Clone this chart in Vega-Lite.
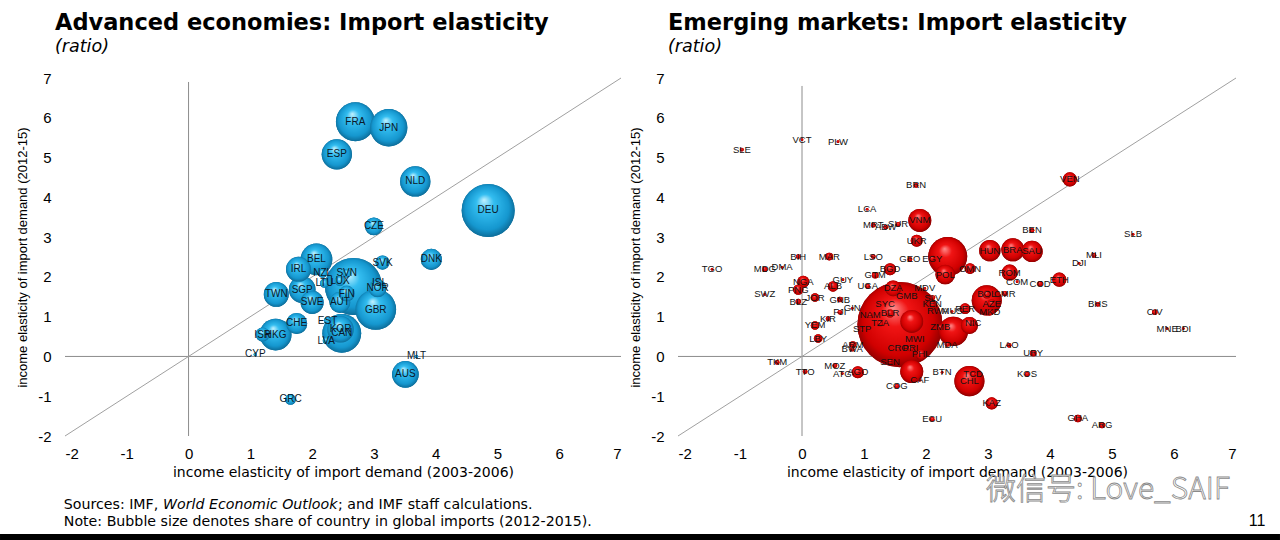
{
  "$schema": "https://vega.github.io/schema/vega-lite/v6.json",
  "description": "Import elasticity: advanced economies vs emerging markets",
  "background": "white",
  "padding": {"left": 0, "top": 12, "right": 0, "bottom": 0},
  "bounds": "flush",
  "spacing": 57,
  "datasets": {
    "one": [{}],
    "adv": [
      {"code": "USA", "label": "", "x": 2.67, "y": 1.76, "share": 11.0},
      {"code": "DEU", "label": "DEU", "x": 4.85, "y": 3.67, "share": 9.5},
      {"code": "FRA", "label": "FRA", "x": 2.7, "y": 5.9, "share": 5.1},
      {"code": "JPN", "label": "JPN", "x": 3.24, "y": 5.75, "share": 4.7},
      {"code": "GBR", "label": "GBR", "x": 3.03, "y": 1.18, "share": 5.6},
      {"code": "CAN", "label": "CAN", "x": 2.48, "y": 0.58, "share": 5.1},
      {"code": "ESP", "label": "ESP", "x": 2.4, "y": 5.08, "share": 3.1},
      {"code": "NLD", "label": "NLD", "x": 3.67, "y": 4.4, "share": 3.1},
      {"code": "BEL", "label": "BEL", "x": 2.07, "y": 2.44, "share": 3.4},
      {"code": "HKG", "label": "HKG", "x": 1.41, "y": 0.55, "share": 3.4},
      {"code": "SGP", "label": "SGP", "x": 1.84, "y": 1.68, "share": 2.4},
      {"code": "TWN", "label": "TWN", "x": 1.42, "y": 1.56, "share": 2.1},
      {"code": "IRL", "label": "IRL", "x": 1.78, "y": 2.19, "share": 2.1},
      {"code": "SWE", "label": "SWE", "x": 2.0, "y": 1.36, "share": 1.8},
      {"code": "AUT", "label": "AUT", "x": 2.45, "y": 1.36, "share": 1.5},
      {"code": "CHE", "label": "CHE", "x": 1.75, "y": 0.83, "share": 1.5},
      {"code": "DNK", "label": "DNK", "x": 3.93, "y": 2.44, "share": 1.5},
      {"code": "AUS", "label": "AUS", "x": 3.51, "y": -0.45, "share": 2.4},
      {"code": "KOR", "label": "KOR", "x": 2.46, "y": 0.68, "share": 2.4},
      {"code": "CZE", "label": "CZE", "x": 3.0, "y": 3.27, "share": 1.06},
      {"code": "SVK", "label": "SVK", "x": 3.14, "y": 2.36, "share": 0.68},
      {"code": "NOR", "label": "NOR", "x": 3.06, "y": 1.71, "share": 1.06},
      {"code": "FIN", "label": "FIN", "x": 2.56, "y": 1.58, "share": 0.86},
      {"code": "ISL", "label": "ISL", "x": 3.09, "y": 1.84, "share": 0.1},
      {"code": "NZL", "label": "NZL", "x": 2.17, "y": 2.09, "share": 0.27},
      {"code": "SVN", "label": "SVN", "x": 2.56, "y": 2.09, "share": 0.27},
      {"code": "LTU", "label": "LTU", "x": 2.2, "y": 1.84, "share": 0.27},
      {"code": "LUX", "label": "LUX", "x": 2.45, "y": 1.9, "share": 0.38},
      {"code": "EST", "label": "EST", "x": 2.25, "y": 0.9, "share": 0.17},
      {"code": "LVA", "label": "LVA", "x": 2.23, "y": 0.4, "share": 0.17},
      {"code": "ISR", "label": "ISR", "x": 1.2, "y": 0.55, "share": 0.68},
      {"code": "CYP", "label": "CYP", "x": 1.08, "y": 0.05, "share": 0.04},
      {"code": "MLT", "label": "MLT", "x": 3.69, "y": 0.0, "share": 0.04},
      {"code": "GRC", "label": "GRC", "x": 1.65, "y": -1.08, "share": 0.38}
    ],
    "em": [
      {"code": "CHN", "label": "", "x": 1.58, "y": 0.8, "share": 10.0},
      {"code": "MEX", "label": "", "x": 2.35, "y": 2.51, "share": 2.1},
      {"code": "IND", "label": "", "x": 1.77, "y": 0.88, "share": 0.73},
      {"code": "THA", "label": "", "x": 2.44, "y": 0.63, "share": 1.2},
      {"code": "MYS", "label": "", "x": 2.7, "y": 0.78, "share": 0.4},
      {"code": "ARE", "label": "", "x": 2.98, "y": 1.41, "share": 1.25},
      {"code": "PAK", "label": "", "x": 1.77, "y": -0.38, "share": 0.73},
      {"code": "CHL", "label": "CHL", "x": 2.7, "y": -0.62, "share": 1.25},
      {"code": "TCD", "label": "TCD", "x": 2.76, "y": -0.45, "share": 0.03},
      {"code": "SLE", "label": "SLE", "x": -0.97, "y": 5.2, "share": 0.02},
      {"code": "VCT", "label": "VCT", "x": 0.0, "y": 5.45, "share": 0.01},
      {"code": "PLW", "label": "PLW", "x": 0.58, "y": 5.4, "share": 0.01},
      {"code": "BRN", "label": "BRN", "x": 1.84, "y": 4.3, "share": 0.03},
      {"code": "LCA", "label": "LCA", "x": 1.05, "y": 3.7, "share": 0.01},
      {"code": "MRT", "label": "MRT", "x": 1.15, "y": 3.3, "share": 0.03},
      {"code": "ABW", "label": "ABW", "x": 1.35, "y": 3.25, "share": 0.03},
      {"code": "SUR", "label": "SUR", "x": 1.55, "y": 3.32, "share": 0.03},
      {"code": "VNM", "label": "VNM", "x": 1.9, "y": 3.42, "share": 0.73},
      {"code": "UKR", "label": "UKR", "x": 1.85, "y": 2.91, "share": 0.2},
      {"code": "BIH", "label": "BIH", "x": -0.06, "y": 2.51, "share": 0.03},
      {"code": "MAR", "label": "MAR", "x": 0.44, "y": 2.51, "share": 0.08},
      {"code": "LSO", "label": "LSO", "x": 1.15, "y": 2.51, "share": 0.03},
      {"code": "GEO", "label": "GEO", "x": 1.74, "y": 2.44, "share": 0.03},
      {"code": "EGY", "label": "EGY", "x": 2.1, "y": 2.46, "share": 0.05},
      {"code": "POL", "label": "POL", "x": 2.31, "y": 2.06, "share": 0.53},
      {"code": "OMN", "label": "OMN", "x": 2.71, "y": 2.21, "share": 0.16},
      {"code": "HUN", "label": "HUN", "x": 3.03, "y": 2.66, "share": 0.63},
      {"code": "BRA", "label": "BRA", "x": 3.4, "y": 2.68, "share": 0.73},
      {"code": "SAU", "label": "SAU", "x": 3.71, "y": 2.64, "share": 0.63},
      {"code": "ROM", "label": "ROM", "x": 3.35, "y": 2.11, "share": 0.35},
      {"code": "COM", "label": "COM", "x": 3.47, "y": 1.88, "share": 0.01},
      {"code": "COD", "label": "COD", "x": 3.84, "y": 1.83, "share": 0.04},
      {"code": "ETH", "label": "ETH", "x": 4.15, "y": 1.93, "share": 0.28},
      {"code": "BEN", "label": "BEN", "x": 3.71, "y": 3.17, "share": 0.03},
      {"code": "VEN", "label": "VEN", "x": 4.32, "y": 4.45, "share": 0.28},
      {"code": "SLB", "label": "SLB", "x": 5.34, "y": 3.07, "share": 0.01},
      {"code": "MLI", "label": "MLI", "x": 4.71, "y": 2.54, "share": 0.03},
      {"code": "DJI", "label": "DJI", "x": 4.47, "y": 2.34, "share": 0.01},
      {"code": "BHS", "label": "BHS", "x": 4.77, "y": 1.31, "share": 0.03},
      {"code": "CIV", "label": "CIV", "x": 5.69, "y": 1.11, "share": 0.04},
      {"code": "MNE", "label": "MNE", "x": 5.89, "y": 0.7, "share": 0.01},
      {"code": "BDI", "label": "BDI", "x": 6.15, "y": 0.7, "share": 0.01},
      {"code": "LAO", "label": "LAO", "x": 3.34, "y": 0.28, "share": 0.03},
      {"code": "URY", "label": "URY", "x": 3.73, "y": 0.08, "share": 0.06},
      {"code": "KOS", "label": "KOS", "x": 3.63, "y": -0.45, "share": 0.03},
      {"code": "KAZ", "label": "KAZ", "x": 3.06, "y": -1.18, "share": 0.2},
      {"code": "GHA", "label": "GHA", "x": 4.45, "y": -1.56, "share": 0.08},
      {"code": "ARG", "label": "ARG", "x": 4.84, "y": -1.73, "share": 0.05},
      {"code": "BOL", "label": "BOL", "x": 2.98, "y": 1.56, "share": 0.1},
      {"code": "CMR", "label": "CMR", "x": 3.27, "y": 1.58, "share": 0.04},
      {"code": "AZE", "label": "AZE", "x": 3.06, "y": 1.33, "share": 0.1},
      {"code": "MKD", "label": "MKD", "x": 3.03, "y": 1.11, "share": 0.06},
      {"code": "TGO", "label": "TGO", "x": -1.45, "y": 2.19, "share": 0.01},
      {"code": "MDG", "label": "MDG", "x": -0.6, "y": 2.19, "share": 0.04},
      {"code": "DMA", "label": "DMA", "x": -0.32, "y": 2.24, "share": 0.01},
      {"code": "SWZ", "label": "SWZ", "x": -0.6, "y": 1.56, "share": 0.01},
      {"code": "NGA", "label": "NGA", "x": 0.02, "y": 1.88, "share": 0.2},
      {"code": "PNG", "label": "PNG", "x": -0.06, "y": 1.68, "share": 0.15},
      {"code": "BLZ", "label": "BLZ", "x": -0.06, "y": 1.38, "share": 0.04},
      {"code": "JOR", "label": "JOR", "x": 0.21, "y": 1.48, "share": 0.1},
      {"code": "GUY", "label": "GUY", "x": 0.66, "y": 1.93, "share": 0.01},
      {"code": "ALB", "label": "ALB", "x": 0.5, "y": 1.76, "share": 0.15},
      {"code": "GNB", "label": "GNB", "x": 0.61, "y": 1.43, "share": 0.04},
      {"code": "UGA", "label": "UGA", "x": 1.06, "y": 1.76, "share": 0.03},
      {"code": "GTM", "label": "GTM", "x": 1.18, "y": 2.04, "share": 0.06},
      {"code": "BGD", "label": "BGD", "x": 1.42, "y": 2.19, "share": 0.2},
      {"code": "DZA", "label": "DZA", "x": 1.47, "y": 1.71, "share": 0.35},
      {"code": "GMB", "label": "GMB", "x": 1.69, "y": 1.51, "share": 0.01},
      {"code": "MDV", "label": "MDV", "x": 1.98, "y": 1.71, "share": 0.01},
      {"code": "SLV", "label": "SLV", "x": 2.11, "y": 1.48, "share": 0.03},
      {"code": "SYC", "label": "SYC", "x": 1.34, "y": 1.31, "share": 0.01},
      {"code": "NAM", "label": "NAM", "x": 1.1, "y": 1.03, "share": 0.04},
      {"code": "BLR", "label": "BLR", "x": 1.42, "y": 1.08, "share": 0.1},
      {"code": "TZA", "label": "TZA", "x": 1.26, "y": 0.83, "share": 0.05},
      {"code": "MWI", "label": "MWI", "x": 1.82, "y": 0.43, "share": 0.01},
      {"code": "CRO", "label": "CRO", "x": 1.55, "y": 0.2, "share": 0.05},
      {"code": "PRI", "label": "PRI", "x": 1.75, "y": 0.2, "share": 0.05},
      {"code": "PHL", "label": "PHL", "x": 1.92, "y": 0.05, "share": 0.15},
      {"code": "ZMB", "label": "ZMB", "x": 2.23, "y": 0.73, "share": 0.05},
      {"code": "MDA", "label": "MDA", "x": 2.34, "y": 0.3, "share": 0.03},
      {"code": "NIC", "label": "NIC", "x": 2.76, "y": 0.83, "share": 0.04},
      {"code": "PER", "label": "PER", "x": 2.63, "y": 1.2, "share": 0.16},
      {"code": "RWA", "label": "RWA", "x": 2.19, "y": 1.13, "share": 0.01},
      {"code": "KEN", "label": "KEN", "x": 2.1, "y": 1.31, "share": 0.05},
      {"code": "MUS", "label": "MUS", "x": 2.42, "y": 1.13, "share": 0.01},
      {"code": "STP", "label": "STP", "x": 0.97, "y": 0.68, "share": 0.01},
      {"code": "GIN", "label": "GIN", "x": 0.81, "y": 1.21, "share": 0.01},
      {"code": "FJI", "label": "FJI", "x": 0.61, "y": 1.11, "share": 0.03},
      {"code": "KIR", "label": "KIR", "x": 0.42, "y": 0.95, "share": 0.03},
      {"code": "YEM", "label": "YEM", "x": 0.21, "y": 0.78, "share": 0.1},
      {"code": "LBY", "label": "LBY", "x": 0.26, "y": 0.45, "share": 0.1},
      {"code": "BWA", "label": "BWA", "x": 0.81, "y": 0.18, "share": 0.03},
      {"code": "ARM", "label": "ARM", "x": 0.82, "y": 0.3, "share": 0.06},
      {"code": "SEN", "label": "SEN", "x": 1.42, "y": -0.13, "share": 0.03},
      {"code": "CAF", "label": "CAF", "x": 1.9, "y": -0.6, "share": 0.01},
      {"code": "COG", "label": "COG", "x": 1.53, "y": -0.75, "share": 0.03},
      {"code": "BTN", "label": "BTN", "x": 2.26, "y": -0.4, "share": 0.01},
      {"code": "ECU", "label": "ECU", "x": 2.1, "y": -1.58, "share": 0.03},
      {"code": "MOZ", "label": "MOZ", "x": 0.53, "y": -0.23, "share": 0.03},
      {"code": "ATG", "label": "ATG", "x": 0.65, "y": -0.43, "share": 0.01},
      {"code": "AGO", "label": "AGO", "x": 0.9, "y": -0.4, "share": 0.2},
      {"code": "TTO", "label": "TTO", "x": 0.05, "y": -0.38, "share": 0.03},
      {"code": "TKM", "label": "TKM", "x": -0.4, "y": -0.15, "share": 0.03}
    ]
  },
  "hconcat": [
    {
      "width": 556,
      "height": 358,
      "title": {"text": "Advanced economies: Import elasticity", "subtitle": "(ratio)"},
      "layer": [
        {
          "data": {"name": "adv"},
          "mark": {
            "type": "circle",
            "opacity": 1,
            "fill": {
              "gradient": "radial", "x1": 0.42, "y1": 0.3, "r1": 0, "x2": 0.5, "y2": 0.5, "r2": 0.55,
              "stops": [
                {"offset": 0, "color": "#c4f2ff"},
                {"offset": 0.3, "color": "#33bdf0"},
                {"offset": 0.75, "color": "#1597cf"},
                {"offset": 1, "color": "#0a5f88"}
              ]
            }
          },
          "encoding": {
            "x": {"field": "x", "type": "quantitative", "scale": {"domain": [-2, 7], "nice": false, "zero": false},
                  "axis": {"values": [-2, -1, 0, 1, 2, 3, 4, 5, 6, 7], "tickCount": 10, "labelOverlap": false, "title": "income elasticity of import demand (2003-2006)"}},
            "y": {"field": "y", "type": "quantitative", "scale": {"domain": [-2, 7], "nice": false, "zero": false},
                  "axis": {"values": [-2, -1, 0, 1, 2, 3, 4, 5, 6, 7], "tickCount": 10, "labelOverlap": false, "title": "income elasticity of import demand (2012-15)"}},
            "size": {"field": "share", "type": "quantitative", "scale": {"domain": [0, 13], "range": [0, 3850]}, "legend": null},
            "order": {"field": "share", "sort": "descending"}
          }
        },
        {
          "data": {"name": "one"},
          "mark": {"type": "rect", "color": "black", "clip": false},
          "encoding": {"x": {"datum": -3.052}, "x2": {"datum": 17.667}, "y": {"datum": -4.463}, "y2": {"datum": -4.765}}
        },
        {
          "data": {"name": "one"},
          "mark": {"type": "text", "font": "DejaVu Sans", "fontSize": 14.2, "color": "black", "align": "left", "baseline": "middle", "clip": false},
          "encoding": {"x": {"datum": -2.02}, "y": {"datum": -3.734}, "text": {"value": "Sources: IMF,"}}
        },
        {
          "data": {"name": "one"},
          "mark": {"type": "text", "font": "DejaVu Sans", "fontSize": 14.2, "fontStyle": "italic", "color": "black", "align": "left", "baseline": "middle", "clip": false},
          "encoding": {"x": {"datum": -0.414}, "y": {"datum": -3.734}, "text": {"value": "World Economic Outlook"}}
        },
        {
          "data": {"name": "one"},
          "mark": {"type": "text", "font": "DejaVu Sans", "fontSize": 14.2, "color": "black", "align": "left", "baseline": "middle", "clip": false},
          "encoding": {"x": {"datum": 2.42}, "y": {"datum": -3.734}, "text": {"value": "; and IMF staff calculations."}}
        },
        {
          "data": {"name": "one"},
          "mark": {"type": "text", "font": "DejaVu Sans", "fontSize": 14.2, "color": "black", "align": "left", "baseline": "middle", "clip": false},
          "encoding": {"x": {"datum": -2.02}, "y": {"datum": -4.161}, "text": {"value": "Note: Bubble size denotes share of country in global imports (2012-2015)."}}
        },
        {
          "data": {"name": "one"},
          "mark": {"type": "rule", "color": "#8c8c8c", "strokeWidth": 1},
          "encoding": {"x": {"datum": 0}, "y": {"datum": -2}, "y2": {"datum": 6.9}}
        },
        {
          "data": {"name": "one"},
          "mark": {"type": "rule", "color": "#8c8c8c", "strokeWidth": 1},
          "encoding": {"x": {"datum": -2}, "x2": {"datum": 7}, "y": {"datum": 0}}
        },
        {
          "data": {"name": "one"},
          "mark": {"type": "rule", "color": "#a0a0a0", "strokeWidth": 1},
          "encoding": {"x": {"datum": -2}, "y": {"datum": -2}, "x2": {"datum": 7}, "y2": {"datum": 7}}
        },
        {
          "data": {"name": "adv"},
          "mark": {
            "type": "circle",
            "opacity": 1,
            "fill": {
              "gradient": "radial", "x1": 0.42, "y1": 0.3, "r1": 0, "x2": 0.5, "y2": 0.5, "r2": 0.55,
              "stops": [
                {"offset": 0, "color": "#c4f2ff"},
                {"offset": 0.3, "color": "#33bdf0"},
                {"offset": 0.75, "color": "#1597cf"},
                {"offset": 1, "color": "#0a5f88"}
              ]
            }
          },
          "encoding": {
            "x": {"field": "x", "type": "quantitative"},
            "y": {"field": "y", "type": "quantitative"},
            "size": {"field": "share", "type": "quantitative", "legend": null},
            "order": {"field": "share", "sort": "descending"}
          }
        },
        {
          "data": {"name": "adv"},
          "mark": {"type": "text", "font": "Liberation Sans", "fontSize": 10, "color": "#0b1828", "align": "center", "baseline": "middle"},
          "encoding": {
            "x": {"field": "x", "type": "quantitative"},
            "y": {"field": "y", "type": "quantitative"},
            "text": {"field": "label"}
          }
        }
      ]
    },
    {
      "width": 558,
      "height": 358,
      "title": {"text": "Emerging markets: Import elasticity", "subtitle": "(ratio)"},
      "layer": [
        {
          "data": {"name": "em"},
          "mark": {
            "type": "circle",
            "opacity": 1,
            "fill": {
              "gradient": "radial", "x1": 0.42, "y1": 0.3, "r1": 0, "x2": 0.5, "y2": 0.5, "r2": 0.55,
              "stops": [
                {"offset": 0, "color": "#ff8c8c"},
                {"offset": 0.3, "color": "#f01414"},
                {"offset": 0.75, "color": "#d00000"},
                {"offset": 1, "color": "#7a0000"}
              ]
            }
          },
          "encoding": {
            "x": {"field": "x", "type": "quantitative", "scale": {"domain": [-2, 7], "nice": false, "zero": false},
                  "axis": {"values": [-2, -1, 0, 1, 2, 3, 4, 5, 6, 7], "tickCount": 10, "labelOverlap": false, "title": "income elasticity of import demand (2003-2006)"}},
            "y": {"field": "y", "type": "quantitative", "scale": {"domain": [-2, 7], "nice": false, "zero": false},
                  "axis": {"values": [-2, -1, 0, 1, 2, 3, 4, 5, 6, 7], "tickCount": 10, "labelOverlap": false, "title": "income elasticity of import demand (2012-15)"}},
            "size": {"field": "share", "type": "quantitative", "scale": {"domain": [0, 10], "range": [0, 7240]}, "legend": null},
            "order": {"field": "share", "sort": "descending"}
          }
        },
        {
          "data": {"name": "one"},
          "mark": {"type": "rule", "color": "#8c8c8c", "strokeWidth": 1},
          "encoding": {"x": {"datum": 0}, "y": {"datum": -2}, "y2": {"datum": 6.8}}
        },
        {
          "data": {"name": "one"},
          "mark": {"type": "rule", "color": "#8c8c8c", "strokeWidth": 1},
          "encoding": {"x": {"datum": -2}, "x2": {"datum": 7}, "y": {"datum": 0}}
        },
        {
          "data": {"name": "one"},
          "mark": {"type": "rule", "color": "#a0a0a0", "strokeWidth": 1},
          "encoding": {"x": {"datum": -2}, "y": {"datum": -2}, "x2": {"datum": 7}, "y2": {"datum": 7}}
        },
        {
          "data": {"name": "em"},
          "mark": {
            "type": "circle",
            "opacity": 1,
            "fill": {
              "gradient": "radial", "x1": 0.42, "y1": 0.3, "r1": 0, "x2": 0.5, "y2": 0.5, "r2": 0.55,
              "stops": [
                {"offset": 0, "color": "#ff8c8c"},
                {"offset": 0.3, "color": "#f01414"},
                {"offset": 0.75, "color": "#d00000"},
                {"offset": 1, "color": "#7a0000"}
              ]
            }
          },
          "encoding": {
            "x": {"field": "x", "type": "quantitative"},
            "y": {"field": "y", "type": "quantitative"},
            "size": {"field": "share", "type": "quantitative", "legend": null},
            "order": {"field": "share", "sort": "descending"}
          }
        },
        {
          "data": {"name": "em"},
          "mark": {"type": "text", "font": "Liberation Sans", "fontSize": 9.5, "color": "#111111", "align": "center", "baseline": "middle"},
          "encoding": {
            "x": {"field": "x", "type": "quantitative"},
            "y": {"field": "y", "type": "quantitative"},
            "text": {"field": "label"}
          }
        },
        {
          "data": {"name": "one"},
          "mark": {"type": "text", "font": "Noto Sans CJK SC", "fontSize": 30, "fontWeight": 300, "fill": "white", "stroke": "#8a8a8a", "strokeWidth": 0.8, "align": "center", "baseline": "middle", "clip": false},
          "encoding": {"x": {"datum": 4.935}, "y": {"datum": -3.357}, "text": {"value": "微信号: Love_SAIF"}}
        },
        {
          "data": {"name": "one"},
          "mark": {"type": "text", "font": "Liberation Sans", "fontSize": 16, "fontWeight": "normal", "color": "black", "align": "center", "baseline": "middle", "clip": false},
          "encoding": {"x": {"datum": 7.339}, "y": {"datum": -4.136}, "text": {"value": "11"}}
        }
      ]
    }
  ],
  "resolve": {"scale": {"size": "independent"}},
  "config": {
    "view": {"stroke": null},
    "font": "Liberation Sans",
    "title": {
      "anchor": "start",
      "frame": "group",
      "dx": -10,
      "offset": 16,
      "font": "DejaVu Sans",
      "fontSize": 22.5,
      "fontWeight": "bold",
      "color": "black",
      "subtitleFont": "DejaVu Sans",
      "subtitleFontSize": 17.5,
      "subtitleFontStyle": "italic",
      "subtitleColor": "black",
      "subtitlePadding": 3
    },
    "axis": {
      "domain": false,
      "ticks": false,
      "grid": false,
      "labelOverlap": false,
      "labelExpr": "'' + datum.value",
      "labelFontSize": 15,
      "labelColor": "black",
      "labelFont": "Liberation Sans",
      "titleFont": "Liberation Sans",
      "titleColor": "black",
      "titleFontWeight": "normal"
    },
    "axisX": {"labelPadding": 10, "titlePadding": 4, "titleFont": "DejaVu Sans", "titleFontSize": 14},
    "axisY": {"labelPadding": 14, "titlePadding": 8, "titleFontSize": 13, "labelOverlap": false}
  }
}
